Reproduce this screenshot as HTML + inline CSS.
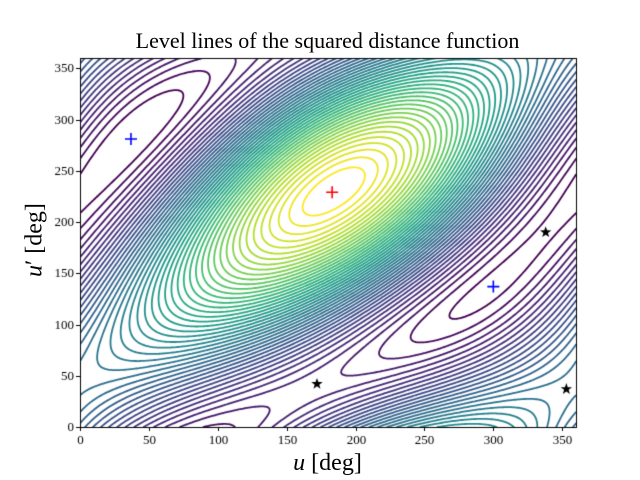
<!DOCTYPE html>
<html><head><meta charset="utf-8"><style>
html,body{margin:0;padding:0;background:#fff;width:640px;height:480px;overflow:hidden}
#c{position:absolute;left:0;top:0}
.t{position:absolute;font-family:"Liberation Serif",serif;color:#000;white-space:nowrap}
</style></head><body>
<canvas id="c" width="640" height="480"></canvas>
<div class="t" style="left:0;width:655px;text-align:center;top:28px;font-size:22px">Level lines of the squared distance function</div>
<div class="t" style="left:0;width:655px;text-align:center;top:450px;font-size:24px"><i>u</i> [deg]</div>
<div class="t" style="top:242px;font-size:24px;transform:translate(0,-50%) rotate(-90deg);transform-origin:center;width:70px;text-align:center;left:0px"><i>u</i>′ [deg]</div>
<script>
var cv=document.getElementById('c'),g=cv.getContext('2d');
var L=80,R=576,T=58,B=427;
function X(u){return L+(R-L)*u/360}
function Y(v){return B-(B-T)*v/360}
var D=Math.PI/180;
var pts=[[183,229],[37,281],[300,137],[172,42],[338,190],[353,37]];
var rows=[];
pts.forEach(function(p){var u=p[0]*D,v=p[1]*D,cu=Math.cos(u),su=Math.sin(u),cvv=Math.cos(v),sv=Math.sin(v);
rows.push([-su,cu,0,0,-su*cvv,-su*sv,cu*cvv,cu*sv]);
rows.push([0,0,-sv,cvv,-cu*sv,cu*cvv,-su*sv,su*cvv]);});
var n=8,A=[],V=[];
for(var i=0;i<n;i++){A.push([]);V.push([]);for(var j=0;j<n;j++){var s=0;rows.forEach(function(r){s+=r[i]*r[j]});A[i].push(s);V[i].push(i==j?1:0);}}
for(var sw=0;sw<100;sw++){for(var p=0;p<n;p++)for(var q=p+1;q<n;q++){if(Math.abs(A[p][q])<1e-14)continue;
var th=(A[q][q]-A[p][p])/(2*A[p][q]);var t=(th>=0?1:-1)/(Math.abs(th)+Math.sqrt(th*th+1));var c=1/Math.sqrt(t*t+1),s=t*c;
for(var k=0;k<n;k++){var a=A[k][p],b=A[k][q];A[k][p]=c*a-s*b;A[k][q]=s*a+c*b;a=V[k][p];b=V[k][q];V[k][p]=c*a-s*b;V[k][q]=s*a+c*b;}
for(var k=0;k<n;k++){var a=A[p][k],b=A[q][k];A[p][k]=c*a-s*b;A[q][k]=s*a+c*b;}}}
var mi=0;for(var i=1;i<n;i++)if(A[i][i]<A[mi][mi])mi=i;
var w=[];for(var i=0;i<n;i++)w.push(V[i][mi]);
function f(ud,vd){var u=ud*D,v=vd*D,cu=Math.cos(u),su=Math.sin(u),cvv=Math.cos(v),sv=Math.sin(v);
var b=[cu,su,cvv,sv,cu*cvv,cu*sv,su*cvv,su*sv],s=0;for(var i=0;i<8;i++)s+=w[i]*b[i];return s;}
if(f(183,229)<f(37,281)){w=w.map(function(x){return -x});}
var N=300,G=[],mn=1e9,mx=-1e9;
for(var j=0;j<=N;j++){G.push([]);for(var i=0;i<=N;i++){var z=f(360*i/N,360*j/N);G[j].push(z);if(z<mn)mn=z;if(z>mx)mx=z;}}
var vs=[[68,1,84],[72,40,120],[62,74,137],[49,104,142],[38,130,142],[31,158,137],[53,183,121],[109,205,89],[180,222,44],[253,231,37]];
function col(t){t=Math.max(0,Math.min(1,t))*9;var k=Math.min(8,Math.floor(t)),r=t-k,a=vs[k],b=vs[k+1];
return 'rgb('+[0,1,2].map(function(m){return Math.round(a[m]+(b[m]-a[m])*r)}).join(',')+')';}
g.save();g.beginPath();g.rect(L,T,R-L,B-T);g.clip();g.lineWidth=1.8;g.lineCap='round';
var NL=46;
for(var l=1;l<NL;l++){var lv=mn+(mx-mn)*l/NL;g.strokeStyle=col((l-1)/(NL-2));g.beginPath();
for(var j=0;j<N;j++)for(var i=0;i<N;i++){var a=G[j][i],b=G[j][i+1],c2=G[j+1][i+1],d=G[j+1][i];
var P=[];function e(v1,v2,x1,y1,x2,y2){if((v1<lv)!=(v2<lv)){var t=(lv-v1)/(v2-v1);P.push([x1+(x2-x1)*t,y1+(y2-y1)*t]);}}
e(a,b,i,j,i+1,j);e(b,c2,i+1,j,i+1,j+1);e(c2,d,i+1,j+1,i,j+1);e(d,a,i,j+1,i,j);
for(var k=0;k+1<P.length;k+=2){g.moveTo(X(P[k][0]*360/N),Y(P[k][1]*360/N));g.lineTo(X(P[k+1][0]*360/N),Y(P[k+1][1]*360/N));}}
g.stroke();}
g.restore();
function plus(u,v,c){g.strokeStyle=c;g.lineWidth=1.6;g.beginPath();g.moveTo(X(u)-6,Y(v));g.lineTo(X(u)+6,Y(v));g.moveTo(X(u),Y(v)-6);g.lineTo(X(u),Y(v)+6);g.stroke();}
function star(u,v){var x=X(u),y=Y(v);g.fillStyle='#000';g.beginPath();for(var k=0;k<10;k++){var r=k%2?2.4:6,a=-Math.PI/2+k*Math.PI/5;g.lineTo(x+r*Math.cos(a),y+r*Math.sin(a));}g.closePath();g.fill();}
plus(37,281,'#0000ff');plus(300,137,'#0000ff');plus(183,229,'#ff0000');
star(172,42);star(338,190);star(353,37);
g.strokeStyle='#000';g.lineWidth=1;g.strokeRect(L+0.5,T+0.5,R-L,B-T);
g.font='13px "Liberation Serif", serif';g.fillStyle='#000';
for(var k=0;k<=350;k+=50){var x=Math.round(X(k))+0.5;g.beginPath();g.moveTo(x,B);g.lineTo(x,B+4);g.stroke();g.textAlign='center';g.textBaseline='top';g.fillText(String(k),x,B+7);
var y=Math.round(Y(k))+0.5;g.beginPath();g.moveTo(L,y);g.lineTo(L-4,y);g.stroke();g.textAlign='right';g.textBaseline='middle';g.fillText(String(k),L-6,y);}
</script>
</body></html>
